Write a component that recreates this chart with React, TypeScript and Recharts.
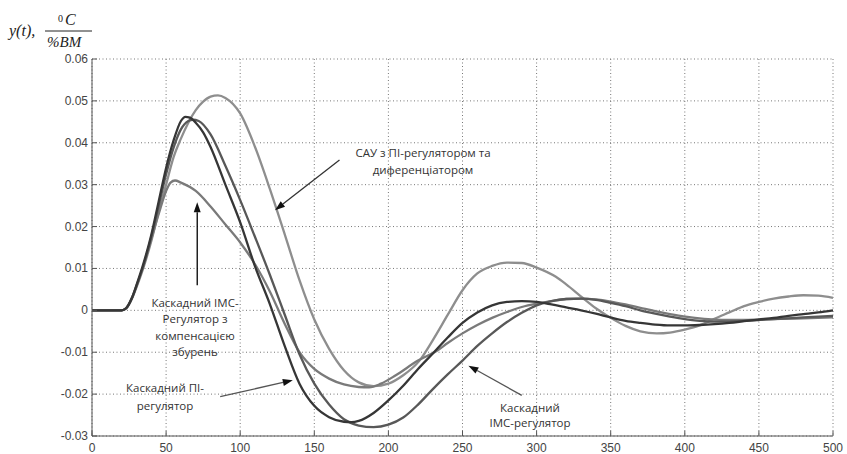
import React from 'react';
import { LineChart, Line, XAxis, YAxis, CartesianGrid, ReferenceLine } from 'recharts';

// час, с
const xTicks = [0, 50, 100, 150, 200, 250, 300, 350, 400, 450, 500];
const yTicks = [-0.03, -0.02, -0.01, 0, 0.01, 0.02, 0.03, 0.04, 0.05, 0.06];

// САУ з ПІ-регулятором та диференціатором
const piDiff: [number, number][] = [
  [0, 0], [20, 0], [23, 0.0004], [27, 0.0028], [30, 0.0055], [35, 0.0105], [40, 0.0165], [45, 0.0235],
  [50, 0.03], [55, 0.0365], [60, 0.041], [65, 0.0448], [70, 0.0478], [75, 0.0498], [80, 0.051], [85, 0.0513],
  [90, 0.0507], [100, 0.047], [110, 0.039], [120, 0.029], [130, 0.0182], [140, 0.0072], [150, -0.0022],
  [160, -0.0092], [170, -0.0143], [180, -0.0172], [190, -0.0181], [200, -0.0175], [210, -0.0155], [221, -0.012],
  [230, -0.0071], [240, -0.0011], [250, 0.0048], [260, 0.0088], [270, 0.0106], [280, 0.0114], [290, 0.0113],
  [300, 0.0102], [313, 0.008], [320, 0.0062], [331, 0.003], [340, 0.0005], [350, -0.0018], [360, -0.0037],
  [370, -0.005], [381, -0.0055], [390, -0.0053], [400, -0.0046], [410, -0.0036], [420, -0.002], [430, -0.0005],
  [440, 0.001], [450, 0.002], [460, 0.0028], [470, 0.0033], [480, 0.0036], [490, 0.0035], [500, 0.003],
];

// Каскадний IMC-регулятор з компенсацією збурень
const imcComp: [number, number][] = [
  [0, 0], [20, 0], [23, 0.0005], [27, 0.003], [30, 0.0058], [35, 0.011], [40, 0.017], [45, 0.023],
  [50, 0.0285], [53, 0.0305], [56, 0.031], [60, 0.0305], [70, 0.0285], [80, 0.0248], [90, 0.0205],
  [100, 0.0162], [110, 0.011], [120, 0.0045], [130, -0.0032], [140, -0.0100], [150, -0.014], [160, -0.0163],
  [170, -0.0177], [180, -0.0183], [187, -0.0184], [195, -0.0175], [205, -0.0155], [220, -0.012], [233, -0.0096],
  [240, -0.0078], [250, -0.0055], [260, -0.0035], [270, -0.0018], [280, -0.0004], [290, 0.0008], [300, 0.0016],
  [310, 0.0022], [320, 0.0027], [330, 0.0028], [340, 0.0026], [350, 0.0021], [360, 0.0014], [370, 0.0006],
  [380, -0.0002], [390, -0.0009], [400, -0.0015], [410, -0.0019], [420, -0.0022], [430, -0.0023], [440, -0.0023],
  [450, -0.0022], [460, -0.0021], [470, -0.002], [480, -0.0019], [490, -0.0018], [500, -0.0017],
];

// Каскадний ПІ-регулятор
const cascadePi: [number, number][] = [
  [0, 0], [20, 0], [23, 0.0005], [27, 0.003], [30, 0.006], [35, 0.0115], [40, 0.018], [45, 0.026],
  [50, 0.034], [55, 0.0405], [60, 0.0452], [63, 0.0462], [66, 0.046], [70, 0.0448], [75, 0.0425], [80, 0.039],
  [90, 0.03], [100, 0.021], [110, 0.0105], [120, 0.0015], [130, -0.0085], [140, -0.0175], [150, -0.0228],
  [160, -0.0255], [170, -0.0266], [175, -0.0267], [180, -0.0264], [190, -0.0245], [200, -0.0215], [210, -0.018],
  [220, -0.014], [230, -0.0103], [240, -0.0065], [250, -0.003], [260, -0.0005], [270, 0.0012], [280, 0.002],
  [290, 0.0022], [300, 0.002], [310, 0.0014], [320, 0.0007], [330, 0.0], [340, -0.0008], [350, -0.0017],
  [360, -0.0025], [370, -0.003], [380, -0.0034], [390, -0.0036], [400, -0.0036], [410, -0.0035], [420, -0.0033],
  [430, -0.003], [440, -0.0026], [450, -0.0022], [460, -0.0018], [470, -0.0013], [480, -0.0009], [490, -0.0005],
  [500, 0.0],
];

// Каскадний IMC-регулятор
const cascadeImc: [number, number][] = [
  [0, 0], [20, 0], [23, 0.0005], [27, 0.003], [30, 0.0058], [35, 0.011], [40, 0.0175], [45, 0.025],
  [50, 0.0325], [55, 0.0388], [60, 0.0432], [65, 0.0452], [68, 0.0455], [72, 0.0452], [80, 0.042], [90, 0.0345],
  [100, 0.0263], [110, 0.0175], [120, 0.0085], [130, -0.001], [140, -0.0105], [150, -0.0175], [160, -0.0225],
  [170, -0.026], [180, -0.0275], [190, -0.0279], [200, -0.0273], [210, -0.0256], [220, -0.0225], [230, -0.0188],
  [240, -0.0153], [250, -0.012], [260, -0.0085], [270, -0.0055], [280, -0.0028], [290, -0.0006], [300, 0.0012],
  [310, 0.0022], [320, 0.0027], [330, 0.0028], [340, 0.0025], [350, 0.0018], [360, 0.001], [370, 0.0],
  [380, -0.0008], [390, -0.0015], [400, -0.0021], [410, -0.0025], [420, -0.0027], [430, -0.0027], [440, -0.0025],
  [450, -0.0023], [460, -0.0021], [470, -0.0019], [480, -0.0017], [490, -0.0015], [500, -0.0013],
];

// стрілки підписів: [t0, y0, t1, y1] (хвіст -> вістря)
const arrowPiDiff = [167, 0.0359, 123.5, 0.0239];
const arrowImcComp = [71, 0.006, 71, 0.0258];
const arrowCascadePi = [86.5, -0.0206, 135.5, -0.0167];
const arrowCascadeImc = [290, -0.0203, 254, -0.0132];

const toPts = (s: [number, number][]) => s.map(([t, y]) => ({ t, y }));

const fmt = (v: number) => (Math.abs(v) < 1e-9 ? '0' : v.toFixed(2));
const tickFont = 'Liberation Sans, Arial, sans-serif';

const LeftTick = (p: any) => (
  <g>
    <line x1={p.x} y1={p.y} x2={p.x + 5} y2={p.y} stroke="#555" />
    <text x={p.x - 4} y={p.y} dy={4} textAnchor="end" fontSize={12} fill="#444" fontFamily={tickFont}>
      {fmt(p.payload.value)}
    </text>
  </g>
);
const BottomTick = (p: any) => (
  <g>
    <line x1={p.x} y1={p.y} x2={p.x} y2={p.y - 5} stroke="#555" />
    <text x={p.x} y={p.y + 16} textAnchor="middle" fontSize={12} fill="#444" fontFamily={tickFont}>
      {p.payload.value}
    </text>
  </g>
);
const TopTick = (p: any) => <line x1={p.x} y1={p.y} x2={p.x} y2={p.y + 5} stroke="#555" />;
const RightTick = (p: any) => <line x1={p.x} y1={p.y} x2={p.x - 5} y2={p.y} stroke="#555" />;

const Arrow = (color: string) => (p: any) => {
  const { x1, y1, x2, y2 } = p;
  if ([x1, y1, x2, y2].some((v) => v == null || isNaN(v))) return <g />;
  const a = Math.atan2(y2 - y1, x2 - x1);
  const L = 10, W = 3.5;
  const bx = x2 - L * Math.cos(a), by = y2 - L * Math.sin(a);
  const pts = `${x2},${y2} ${bx - W * Math.sin(a)},${by + W * Math.cos(a)} ${bx + W * Math.sin(a)},${by - W * Math.cos(a)}`;
  return (
    <g>
      <line x1={x1} y1={y1} x2={bx} y2={by} stroke={color} strokeWidth={1.3} />
      <polygon points={pts} fill="#111" />
    </g>
  );
};

const seg = (a: number[]) => [{ x: a[0], y: a[1] }, { x: a[2], y: a[3] }];

const noteStyle: React.CSSProperties = {
  position: 'absolute',
  fontFamily: '"Open Sans", "Noto Sans", sans-serif',
  fontSize: 11.5,
  color: '#333',
  textAlign: 'center',
  whiteSpace: 'nowrap',
  transform: 'translateX(-50%)',
};

export default function App() {
  return (
    <div style={{ position: 'absolute', left: 0, top: 0, width: 847, height: 454, background: '#fff' }}>
      <LineChart width={847} height={454} margin={{ top: 59, right: 14, bottom: 0, left: 0 }}>
        <CartesianGrid stroke="#777" strokeDasharray="1 2.5" vertical horizontal />
        <XAxis dataKey="t" type="number" domain={[0, 500]} ticks={xTicks} interval={0} height={18}
          tickSize={0} tickMargin={0} tick={<BottomTick />} axisLine={{ stroke: '#555' }} tickLine={false} />
        <XAxis xAxisId="top" orientation="top" dataKey="t" type="number" domain={[0, 500]} ticks={xTicks}
          interval={0} height={0} tickSize={0} tickMargin={0} tick={<TopTick />} axisLine={{ stroke: '#555' }} tickLine={false} />
        <YAxis type="number" domain={[-0.03, 0.06]} ticks={yTicks} interval={0} width={92}
          tickSize={0} tickMargin={0} tick={<LeftTick />} axisLine={{ stroke: '#555' }} tickLine={false} allowDataOverflow />
        <YAxis yAxisId="right" orientation="right" type="number" domain={[-0.03, 0.06]} ticks={yTicks}
          interval={0} width={0} tickSize={0} tickMargin={0} tick={<RightTick />} axisLine={{ stroke: '#555' }} tickLine={false} />
        <Line data={toPts(piDiff)} dataKey="y" type="monotone" stroke="#8e8e8e" strokeWidth={2.3} dot={false} isAnimationActive={false} />
        <Line data={toPts(imcComp)} dataKey="y" type="monotone" stroke="#7a7a7a" strokeWidth={2.3} dot={false} isAnimationActive={false} />
        <Line data={toPts(cascadeImc)} dataKey="y" type="monotone" stroke="#585858" strokeWidth={2.3} dot={false} isAnimationActive={false} />
        <Line data={toPts(cascadePi)} dataKey="y" type="monotone" stroke="#363636" strokeWidth={2.3} dot={false} isAnimationActive={false} />
        <ReferenceLine segment={seg(arrowPiDiff)} shape={Arrow('#333')} ifOverflow="visible" />
        <ReferenceLine segment={seg(arrowImcComp)} shape={Arrow('#000')} ifOverflow="visible" />
        <ReferenceLine segment={seg(arrowCascadePi)} shape={Arrow('#555')} ifOverflow="visible" />
        <ReferenceLine segment={seg(arrowCascadeImc)} shape={Arrow('#555')} ifOverflow="visible" />
      </LineChart>

      <svg width={100} height={52} style={{ position: 'absolute', left: 0, top: 0 }}>
        <g fontFamily='"Liberation Serif", "Times New Roman", serif' fontStyle="italic" fill="#222">
          <text x={9} y={36} fontSize={16}>y(t),</text>
          <text x={58} y={22} fontSize={10} fontStyle="normal">0</text>
          <text x={65} y={25} fontSize={16}>C</text>
          <line x1={45} y1={31} x2={92} y2={31} stroke="#222" strokeWidth={1} />
          <text x={47} y={47} fontSize={15}>%BM</text>
        </g>
      </svg>

      <div style={{ ...noteStyle, left: 423, top: 144, lineHeight: '17px' }}>
        САУ з ПІ-регулятором та<br />диференціатором
      </div>
      <div style={{ ...noteStyle, left: 195, top: 295, lineHeight: '16.3px' }}>
        Каскадний IMC-<br />Регулятор з<br />компенсацією<br />збурень
      </div>
      <div style={{ ...noteStyle, left: 165, top: 379, lineHeight: '18px' }}>
        Каскадний ПІ-<br />регулятор
      </div>
      <div style={{ ...noteStyle, left: 530, top: 400, lineHeight: '15px' }}>
        Каскадний<br />IMC-регулятор
      </div>
    </div>
  );
}
